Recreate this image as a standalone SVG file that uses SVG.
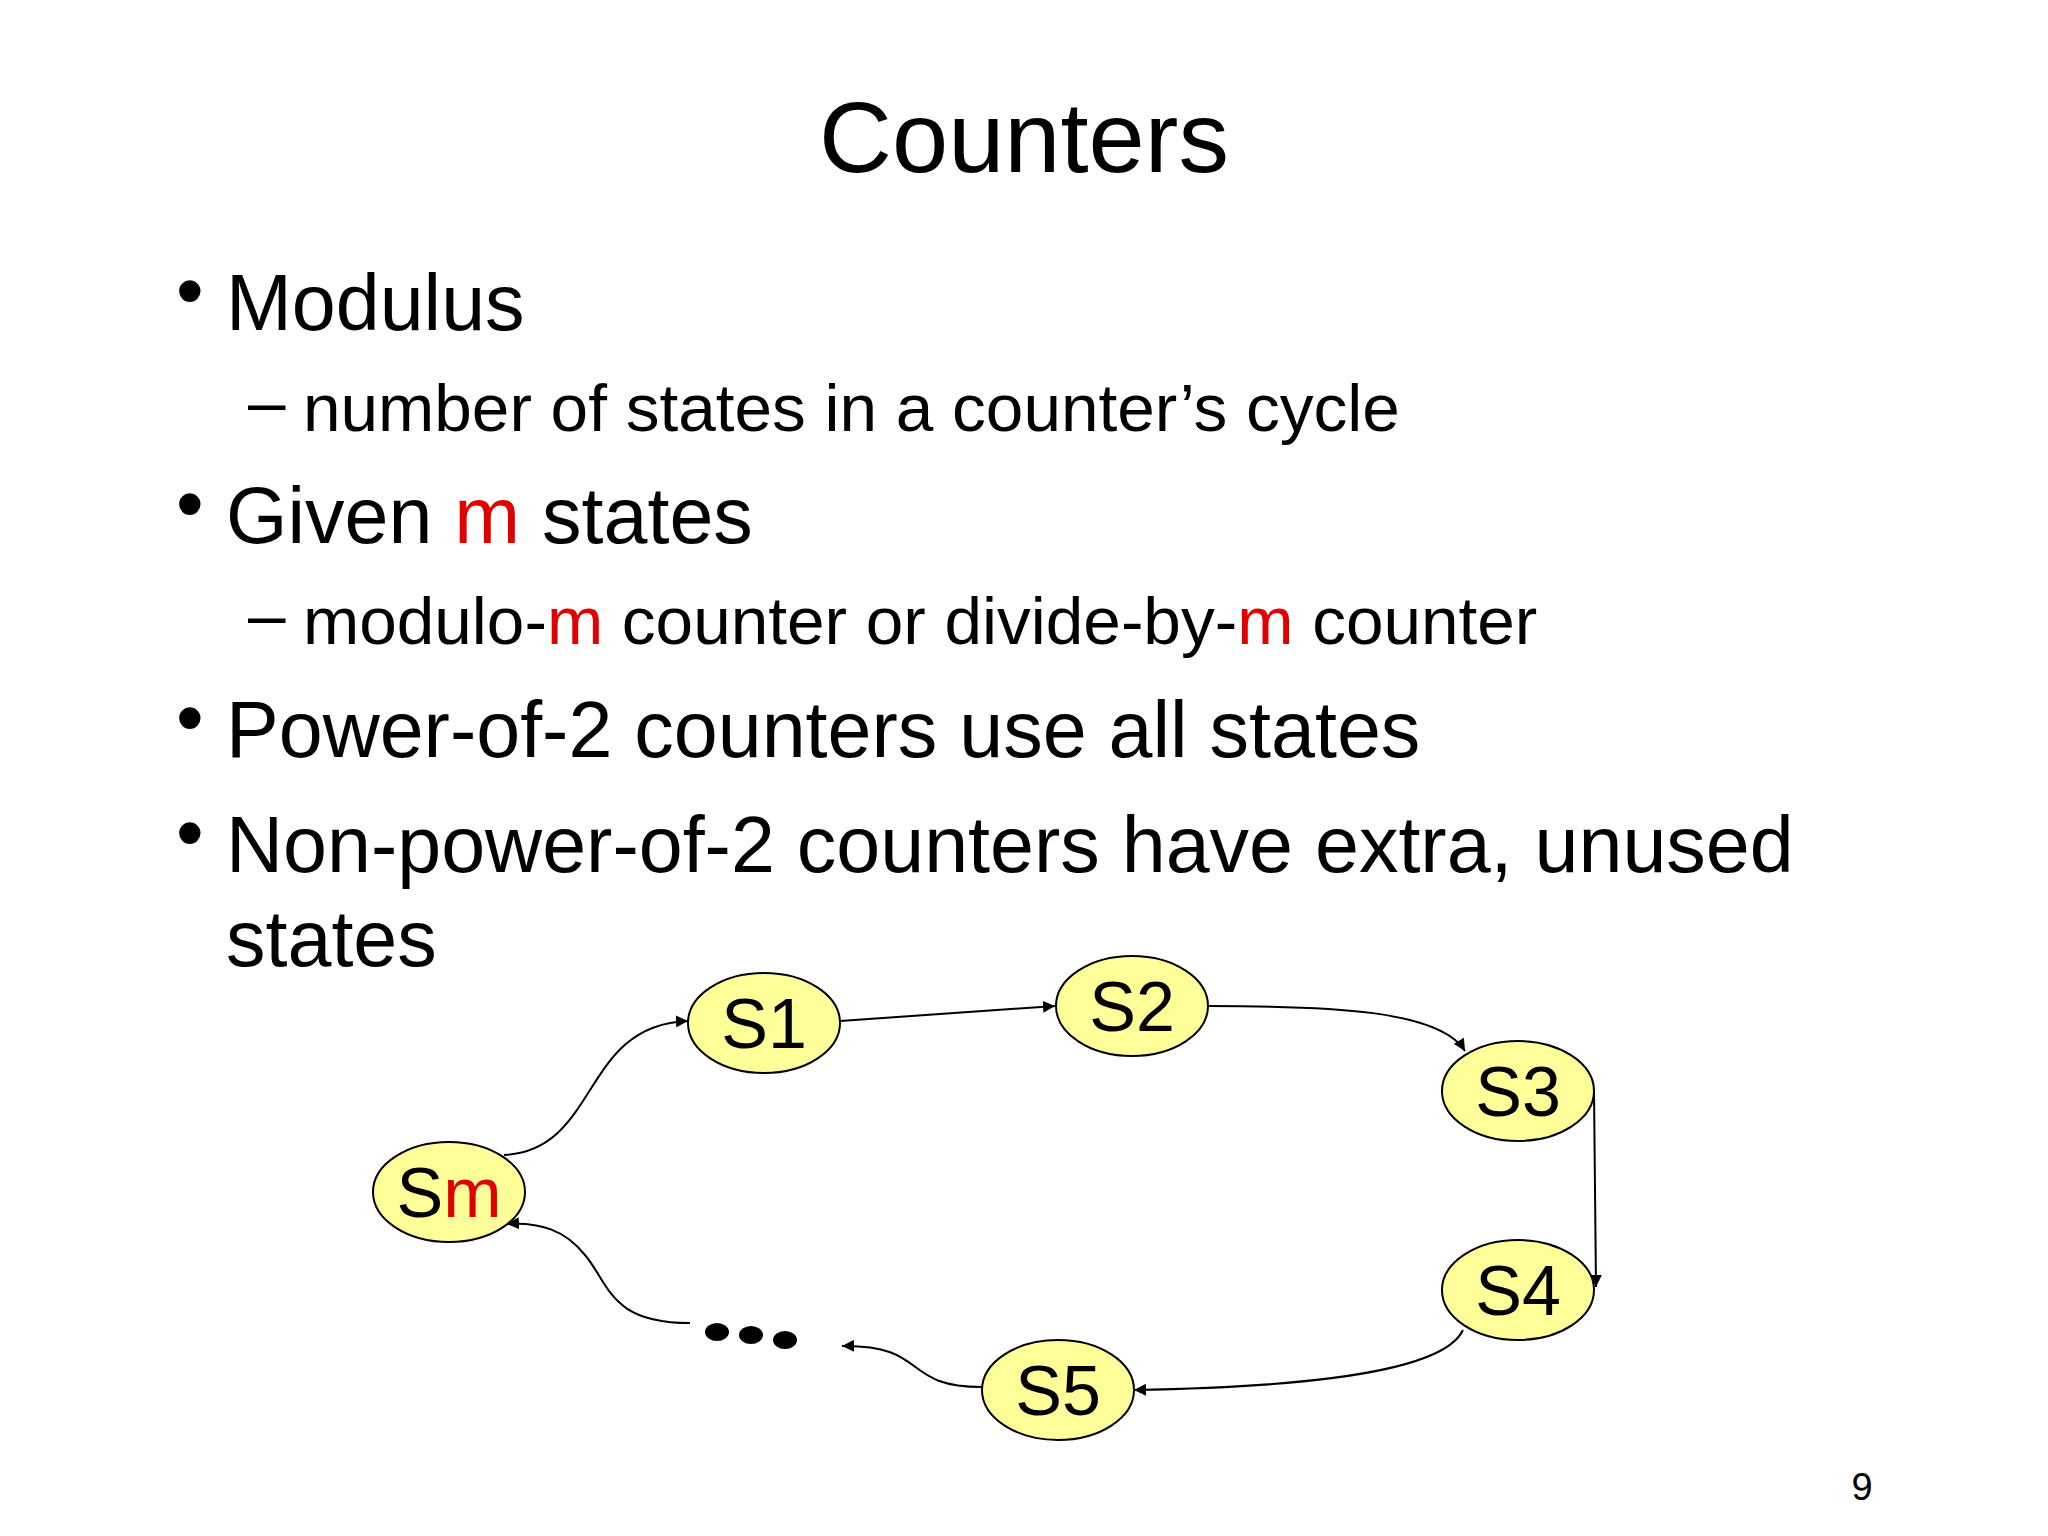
<svg xmlns="http://www.w3.org/2000/svg" width="2048" height="1536" viewBox="0 0 2048 1536">
<style>
text{font-family:"Liberation Sans",Arial,sans-serif;fill:#000}
.b{font-size:79px}.s{font-size:67.5px}.n{font-size:70px}
.r{fill:#e00000}
ellipse{fill:#ffff99;stroke:#000;stroke-width:2}
.c path,.c line{fill:none;stroke:#000;stroke-width:2;marker-end:url(#a)}
</style>
<defs><marker id="a" viewBox="0 0 10 10" refX="10" refY="5" markerWidth="12" markerHeight="12" orient="auto" markerUnits="userSpaceOnUse"><path d="M0,0L10,5L0,10z" fill="#000"/></marker></defs>
<rect width="2048" height="1536" fill="#fff"/>
<text x="1024" y="172" font-size="101" text-anchor="middle">Counters</text>
<text x="176" y="318" class="b">•</text><text x="226" y="330" class="b">Modulus</text>
<text x="248" y="425" class="s">–</text><text x="303" y="431" class="s">number of states in a counter’s cycle</text>
<text x="176" y="531" class="b">•</text><text x="226" y="543" class="b">Given <tspan class="r">m</tspan> states</text>
<text x="248" y="638" class="s">–</text><text x="303" y="644" class="s">modulo-<tspan class="r">m</tspan> counter or divide-by-<tspan class="r">m</tspan> counter</text>
<text x="176" y="745" class="b">•</text><text x="226" y="757" class="b">Power-of-2 counters use all states</text>
<text x="176" y="860" class="b">•</text><text x="226" y="872" class="b">Non-power-of-2 counters have extra, unused</text>
<text x="226" y="966" class="b">states</text>
<g class="c" id="connectors">
<path d="M504,1155 C600,1150 580,1025 688,1021"/>
<line x1="840" y1="1021" x2="1055" y2="1006"/>
<path d="M1208,1006 C1330,1006 1440,1010 1465,1051"/>
<line x1="1594" y1="1091" x2="1596" y2="1287"/>
<path d="M1463,1330 C1440,1380 1250,1388 1134,1390"/>
<path d="M982,1387 C900,1387 930,1345 842,1346"/>
<path d="M690,1323 C610,1323 610,1285 585,1255 C565,1230 540,1222 507,1224"/>
</g>
<g id="S1"><ellipse cx="764" cy="1023" rx="76" ry="50"/><text x="764" y="1048" class="n" text-anchor="middle">S1</text></g>
<g id="S2"><ellipse cx="1132" cy="1006" rx="76" ry="50"/><text x="1132" y="1031" class="n" text-anchor="middle">S2</text></g>
<g id="S3"><ellipse cx="1518" cy="1091" rx="76" ry="50"/><text x="1518" y="1116" class="n" text-anchor="middle">S3</text></g>
<g id="S4"><ellipse cx="1518" cy="1290" rx="76" ry="50"/><text x="1518" y="1315" class="n" text-anchor="middle">S4</text></g>
<g id="S5"><ellipse cx="1058" cy="1390" rx="76" ry="50"/><text x="1058" y="1415" class="n" text-anchor="middle">S5</text></g>
<g id="Sm"><ellipse cx="449" cy="1192" rx="76" ry="50"/><text x="449" y="1217" class="n" text-anchor="middle">S<tspan class="r">m</tspan></text></g>
<g id="dots"><ellipse cx="717" cy="1332" rx="11" ry="8" style="fill:#000"/><ellipse cx="751" cy="1335" rx="11" ry="8" style="fill:#000"/><ellipse cx="785" cy="1340" rx="11" ry="8" style="fill:#000"/></g>
<text x="1862" y="1500" font-size="38" text-anchor="middle">9</text>
</svg>
